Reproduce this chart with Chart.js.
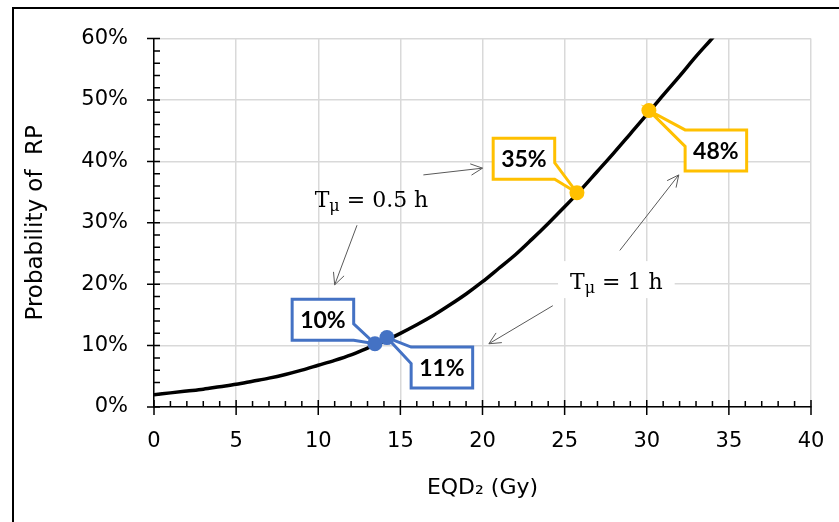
<!DOCTYPE html>
<html>
<head>
<meta charset="utf-8">
<script src="https://cdn.jsdelivr.net/npm/chart.js@4.4.1/dist/chart.umd.min.js"></script>
<style>
  html, body { margin: 0; padding: 0; background: #fff; }
  canvas { display: block; }
</style>
</head>
<body>
<canvas id="rpChart" width="839" height="522"></canvas>
<script>
// curve: EQD2 (Gy) -> probability of RP (%)
const eqd = [0, 1, 2, 3, 4, 5, 6, 7, 8, 9, 10, 11, 12, 13, 14, 15, 16, 17,
             18, 19, 20, 21, 22, 23, 24, 25, 26, 27, 28, 29, 30, 31, 32, 33, 34, 35];
const probRP = [2.0, 2.3, 2.6, 2.9, 3.3, 3.7, 4.2, 4.7, 5.3, 6.0, 6.8, 7.6, 8.5, 9.6, 10.7, 12.0, 13.4, 14.9,
                16.6, 18.4, 20.4, 22.6, 24.8, 27.3, 29.9, 32.6, 35.4, 38.4, 41.4, 44.5, 47.6, 50.8, 53.9, 57.1, 60.1, 63.2];

// marked points with their callouts
const markEqd = [13.45, 14.18, 25.75, 30.13];
const markProb = [10.3, 11.3, 34.9, 48.3];
const markLabels = ['10%', '11%', '35%', '48%'];
const markColors = ['#4472c4', '#4472c4', '#ffc000', '#ffc000'];

// axis ticks
const xTicks = [0, 5, 10, 15, 20, 25, 30, 35, 40];
const yTicks = [0, 10, 20, 30, 40, 50, 60];

// annotation notes (T_mu) and arrows, in data units
const noteSub = ['0.5', '1'];
const noteX = [13.24, 28.15];
const noteY = [32.65, 19.2];
const arrows = [
  [16.4, 37.8, 20.0, 38.9],
  [12.36, 29.6, 11.0, 19.9],
  [28.36, 25.5, 31.95, 37.8],
  [24.28, 16.5, 20.39, 10.3]
];

// callout box offsets from the point (pixels)
const boxOffset = [[-52, -24], [55, 30], [-53, -34], [67, 40]];

const curve = eqd.map((v, i) => ({ x: v, y: probRP[i] }));
const marks = markEqd.map((v, i) => ({ x: v, y: markProb[i] }));

function drawArrow(ctx, x1, y1, x2, y2) {
  const a = Math.atan2(y2 - y1, x2 - x1);
  const len = 13, spread = 0.45;
  ctx.beginPath();
  ctx.moveTo(x1, y1);
  ctx.lineTo(x2, y2);
  ctx.moveTo(x2 - len * Math.cos(a - spread), y2 - len * Math.sin(a - spread));
  ctx.lineTo(x2, y2);
  ctx.lineTo(x2 - len * Math.cos(a + spread), y2 - len * Math.sin(a + spread));
  ctx.stroke();
}

function drawNote(ctx, cx, base, sub, withBg) {
  const big = '22px "DejaVu Serif"';
  const small = '16px "DejaVu Serif"';
  const rest = ' = ' + sub + ' h';
  ctx.font = big;
  const wT = ctx.measureText('T').width;
  const wR = ctx.measureText(rest).width;
  ctx.font = small;
  const wM = ctx.measureText('\u03bc').width;
  const total = wT + wM + wR;
  let x = cx - total / 2;
  if (withBg) {
    ctx.fillStyle = '#fff';
    ctx.fillRect(x - 12, base - 28, total + 24, 37);
  }
  ctx.fillStyle = '#000';
  ctx.textBaseline = 'alphabetic';
  ctx.textAlign = 'left';
  ctx.font = big;
  ctx.fillText('T', x, base);
  x += wT;
  ctx.font = small;
  ctx.fillText('\u03bc', x, base + 4);
  x += wM;
  ctx.font = big;
  ctx.fillText(rest, x, base);
}

function drawCallout(ctx, px, py, bx, by, text, color) {
  ctx.font = 'bold 23px Lato';
  const w = ctx.measureText(text).width + 16;
  const h = 41;
  const x0 = bx - w / 2, x1 = bx + w / 2, y0 = by - h / 2, y1 = by + h / 2;
  const a = py > by ? y0 + 0.6 * h : y0;
  const b = py > by ? y1 : y0 + 0.4 * h;
  ctx.beginPath();
  if (px > x1) {
    // wedge on the right side
    ctx.moveTo(x0, y0); ctx.lineTo(x1, y0);
    ctx.lineTo(x1, a); ctx.lineTo(px, py); ctx.lineTo(x1, b);
    ctx.lineTo(x1, y1); ctx.lineTo(x0, y1);
  } else {
    // wedge on the left side
    ctx.moveTo(x0, y0); ctx.lineTo(x1, y0);
    ctx.lineTo(x1, y1); ctx.lineTo(x0, y1);
    ctx.lineTo(x0, b); ctx.lineTo(px, py); ctx.lineTo(x0, a);
  }
  ctx.closePath();
  ctx.fillStyle = '#fff';
  ctx.fill();
  ctx.lineWidth = 3;
  ctx.lineJoin = 'miter';
  ctx.strokeStyle = color;
  ctx.stroke();
  ctx.fillStyle = '#000';
  ctx.textAlign = 'center';
  ctx.textBaseline = 'middle';
  ctx.fillText(text, bx, by + 1);
}

const deco = {
  id: 'deco',
  beforeDatasetsDraw(chart) {
    const { ctx, scales: { x, y } } = chart;
    ctx.save();
    ctx.strokeStyle = '#595959';
    ctx.lineWidth = 1;
    arrows.forEach(a => {
      drawArrow(ctx, x.getPixelForValue(a[0]), y.getPixelForValue(a[1]),
                x.getPixelForValue(a[2]), y.getPixelForValue(a[3]));
    });
    noteSub.forEach((s, i) => {
      drawNote(ctx, x.getPixelForValue(noteX[i]), y.getPixelForValue(noteY[i]), s, i === 1);
    });
    markLabels.forEach((t, i) => {
      const px = x.getPixelForValue(markEqd[i]);
      const py = y.getPixelForValue(markProb[i]);
      drawCallout(ctx, px, py, px + boxOffset[i][0], py + boxOffset[i][1], t, markColors[i]);
    });
    ctx.restore();
  },
  afterDraw(chart) {
    const { ctx, scales: { x, y }, chartArea: area } = chart;
    ctx.save();
    ctx.strokeStyle = '#000';
    ctx.lineWidth = 1.5;
    ctx.beginPath();
    for (let v = 0; v <= 40; v++) {
      const px = x.getPixelForValue(v);
      if (v % 5 === 0) { ctx.moveTo(px, area.bottom - 7); ctx.lineTo(px, area.bottom + 8); }
      else { ctx.moveTo(px, area.bottom - 6); ctx.lineTo(px, area.bottom); }
    }
    for (let v = 0; v <= 60; v += 2) {
      const py = y.getPixelForValue(v);
      if (v % 10 === 0) { ctx.moveTo(area.left - 7, py); ctx.lineTo(area.left + 6, py); }
      else { ctx.moveTo(area.left, py); ctx.lineTo(area.left + 6, py); }
    }
    ctx.stroke();
    // outer frame (top and left edge)
    ctx.lineWidth = 2;
    ctx.beginPath();
    ctx.moveTo(13, 522); ctx.lineTo(13, 8); ctx.lineTo(839, 8);
    ctx.stroke();
    ctx.restore();
  }
};

new Chart(document.getElementById('rpChart'), {
  type: 'scatter',
  data: {
    datasets: [
      {
        data: marks,
        pointRadius: 7.5,
        pointBackgroundColor: markColors,
        pointBorderWidth: 0,
        showLine: false
      },
      {
        data: curve,
        showLine: true,
        borderColor: '#000',
        borderWidth: 3.5,
        pointRadius: 0,
        cubicInterpolationMode: 'monotone'
      }
    ]
  },
  options: {
    responsive: false,
    animation: false,
    layout: { padding: { left: 14, right: 28, top: 36, bottom: 0 } },
    plugins: { legend: { display: false }, tooltip: { enabled: false } },
    scales: {
      x: {
        type: 'linear',
        min: 0, max: 40,
        afterBuildTicks: s => { s.ticks = xTicks.map(v => ({ value: v })); },
        afterFit: s => { s.height = 115; s.paddingLeft = 0; s.paddingRight = 0; },
        grid: { color: '#d9d9d9', lineWidth: 1.5, drawTicks: false },
        border: { color: '#000', width: 1.5 },
        ticks: { padding: 22, color: '#000', font: { family: 'DejaVu Sans', size: 21 } },
        title: {
          display: true, text: 'EQD\u2082 (Gy)', color: '#000',
          font: { family: 'DejaVu Sans', size: 22 }, padding: { top: 0, bottom: 21 }
        }
      },
      y: {
        min: 0, max: 60,
        afterBuildTicks: s => { s.ticks = yTicks.map(v => ({ value: v })); },
        afterFit: s => { s.width = 140; },
        grid: { color: '#d9d9d9', lineWidth: 1.5, drawTicks: false },
        border: { color: '#000', width: 1.5 },
        ticks: { padding: 26, color: '#000', font: { family: 'DejaVu Sans', size: 21 }, callback: v => v + '%' },
        title: {
          display: true, text: 'Probability of  RP', color: '#000',
          font: { family: 'DejaVu Sans', size: 23 }, padding: { top: 8, bottom: 0 }
        }
      }
    }
  },
  plugins: [deco]
});
</script>
</body>
</html>
